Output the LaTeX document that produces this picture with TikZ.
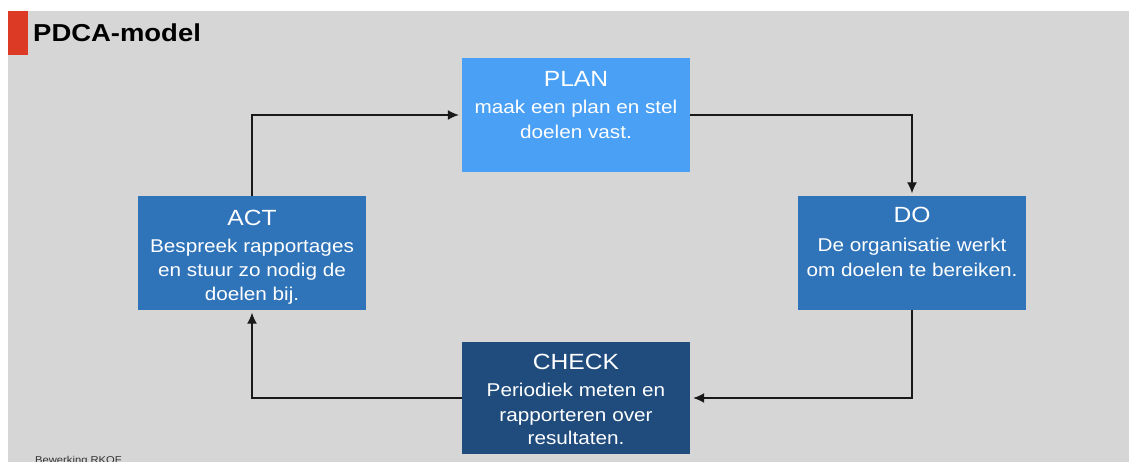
\documentclass[tikz,border=0pt]{standalone}
\usepackage{fontspec}
\setmainfont{Liberation Sans}[FakeStretch=1.12]
\usetikzlibrary{arrows.meta}
\definecolor{bggray}{HTML}{D6D6D6}
\definecolor{planblue}{HTML}{4AA0F5}
\definecolor{midblue}{HTML}{2F73B9}
\definecolor{darkblue}{HTML}{1F4C7D}
\definecolor{redbar}{HTML}{DD3A26}
\newcommand\boxtitlefont{\fontsize{22}{26}\selectfont}
\newcommand\boxbodyfont{\fontsize{18.5}{25}\selectfont}
\tikzset{
  stagebox/.style={rectangle, inner sep=0pt, minimum width=228pt, minimum height=113pt, draw=none},
  stagetext/.style={anchor=north, align=center, text=white, inner sep=0pt, font=\boxbodyfont},
  flow/.style={draw=black!90, line width=1.4pt, shorten >=3pt, -{Latex[length=11pt,width=10pt]}}
}
\begin{document}
\begin{tikzpicture}[x=1pt,y=-1pt]
\useasboundingbox (0,0) rectangle (1129,462);
\fill[white] (0,0) rectangle (1129,462);
\fill[bggray] (8,11) rectangle (1129,462);
\fill[redbar] (8,11) rectangle (28,55);
\node[anchor=base west, inner sep=0pt, font=\fontsize{24.5}{28}\selectfont\bfseries] (title) at (33,42) {PDCA-model};
\node[anchor=base west, inner sep=0pt, font=\fontsize{10}{12}\selectfont, text=black!80] (credit) at (35,463) {Bewerking RKOF};

\node[stagebox, fill=planblue, minimum height=114pt] (plan) at (576,115) {};
\node[stagebox, fill=midblue] (do) at (912,253) {};
\node[stagebox, fill=midblue] (act) at (252,253) {};
\node[stagebox, fill=darkblue, minimum height=112pt] (check) at (576,398) {};

\node[stagetext] (plant) at ([yshift=-13pt]plan.north) {{\boxtitlefont PLAN}\\[2pt] maak een plan en stel\\ doelen vast.};
\node[stagetext] (dot) at ([yshift=-11pt]do.north) {{\boxtitlefont DO}\\[4pt] De organisatie werkt\\ om doelen te bereiken.};
\node[stagetext] (actt) at ([yshift=-14pt]act.north) {{\boxtitlefont ACT}\\[2pt] Bespreek rapportages\\[-1pt] en stuur zo nodig de\\[-1pt] doelen bij.};
\node[stagetext] (checkt) at ([yshift=-12pt]check.north) {{\boxtitlefont CHECK}\\[2pt] Periodiek meten en\\ rapporteren over\\[-2pt] resultaten.};

\draw[flow] (act.north) |- (plan.west);
\draw[flow] (plan.east) -| (do.north);
\draw[flow] (do.south) |- (check.east);
\draw[flow] (check.west) -| (act.south);
\end{tikzpicture}
\end{document}
